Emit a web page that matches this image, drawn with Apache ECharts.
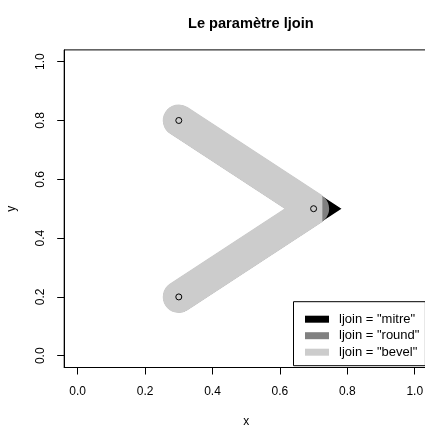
<!DOCTYPE html>
<html>
<head>
<meta charset="utf-8">
<script src="https://cdn.jsdelivr.net/npm/echarts@6/dist/echarts.min.js"></script>
<style>
html,body{margin:0;padding:0;background:#fff;}
#chart{width:425px;height:429px;}
</style>
</head>
<body>
<div id="chart"></div>
<script>
// Data
var xValues = [0.3, 0.7, 0.3];
var yValues = [0.8, 0.5, 0.2];
var joinNames = ['ljoin = "mitre"', 'ljoin = "round"', 'ljoin = "bevel"'];
var joinTypes = ['miter', 'round', 'bevel'];
var joinColors = ['#000000', '#808080', '#cccccc'];
var xTicks = [0, 0.2, 0.4, 0.6, 0.8, 1.0];
var yTicks = [0, 0.2, 0.4, 0.6, 0.8, 1.0];

var pts = xValues.map(function (x, i) { return [x, yValues[i]]; });
var FONT = '"Liberation Sans", Arial, Helvetica, sans-serif';
var lineWidths = [30.5, 31, 32];

var series = joinNames.map(function (name, i) {
  return {
    name: name,
    type: 'line',
    data: pts,
    showSymbol: false,
    symbol: 'none',
    silent: true,
    animation: false,
    z: 2 + i * 0.1,
    itemStyle: { color: joinColors[i] },
    lineStyle: { color: joinColors[i], width: lineWidths[i], cap: 'round', join: joinTypes[i], miterLimit: 10 }
  };
});
series.push({
  name: 'points',
  type: 'scatter',
  data: pts,
  symbol: 'circle',
  symbolSize: 6,
  animation: false,
  z: 10,
  itemStyle: { color: 'rgba(0,0,0,0)', borderColor: '#000', borderWidth: 1, opacity: 1 }
});

var chart = echarts.init(document.getElementById('chart'));
chart.setOption({
  backgroundColor: '#fff',
  animation: false,
  title: {
    text: 'Le paramètre ljoin',
    left: 183,
    top: 11.5,
    textStyle: { fontFamily: FONT, fontSize: 14.6, fontWeight: 'bold', color: '#000' }
  },
  grid: {
    left: 64.2, right: -3.2, top: 49.9, bottom: 61.5,
    containLabel: false,
    outerBoundsMode: 'none',
    show: true, borderColor: '#000', borderWidth: 1, backgroundColor: 'transparent'
  },
  legend: {
    data: joinNames,
    orient: 'vertical',
    left: 293.5,
    top: 301.7,
    icon: 'rect',
    itemWidth: 24,
    itemHeight: 7,
    itemGap: 3.5,
    padding: [11, 6, 7, 11.5],
    borderColor: '#000',
    borderWidth: 1,
    backgroundColor: '#fff',
    selectedMode: false,
    z: 20,
    textStyle: { fontFamily: FONT, fontSize: 13, color: '#000', lineHeight: 12, padding: [0, 0, 0, 5] }
  },
  xAxis: {
    type: 'value',
    min: -0.04, max: 1.04,
    name: 'x',
    nameLocation: 'middle',
    nameGap: 48,
    nameMoveOverlap: false,
    nameTextStyle: { fontFamily: FONT, fontSize: 12, color: '#000' },
    axisLine: { show: true, onZero: false, lineStyle: { color: '#000', width: 1 } },
    axisTick: { show: true, length: 7, customValues: xTicks, lineStyle: { color: '#000' } },
    axisLabel: {
      customValues: xTicks, margin: 18, fontFamily: FONT, fontSize: 12, color: '#000',
      formatter: function (v) { return v.toFixed(1); }
    },
    splitLine: { show: false }
  },
  yAxis: {
    type: 'value',
    min: -0.04, max: 1.04,
    name: 'y',
    nameLocation: 'middle',
    nameGap: 46.5,
    nameMoveOverlap: false,
    nameTextStyle: { fontFamily: FONT, fontSize: 12, color: '#000' },
    axisLine: { show: true, onZero: false, lineStyle: { color: '#000', width: 1 } },
    axisTick: { show: true, length: 7, customValues: yTicks, lineStyle: { color: '#000' } },
    axisLabel: {
      customValues: yTicks, margin: 18, rotate: 90, align: 'center', verticalAlign: 'bottom',
      fontFamily: FONT, fontSize: 12, lineHeight: 12, color: '#000',
      formatter: function (v) { return v.toFixed(1); }
    },
    splitLine: { show: false }
  },
  series: series
});
</script>
</body>
</html>
